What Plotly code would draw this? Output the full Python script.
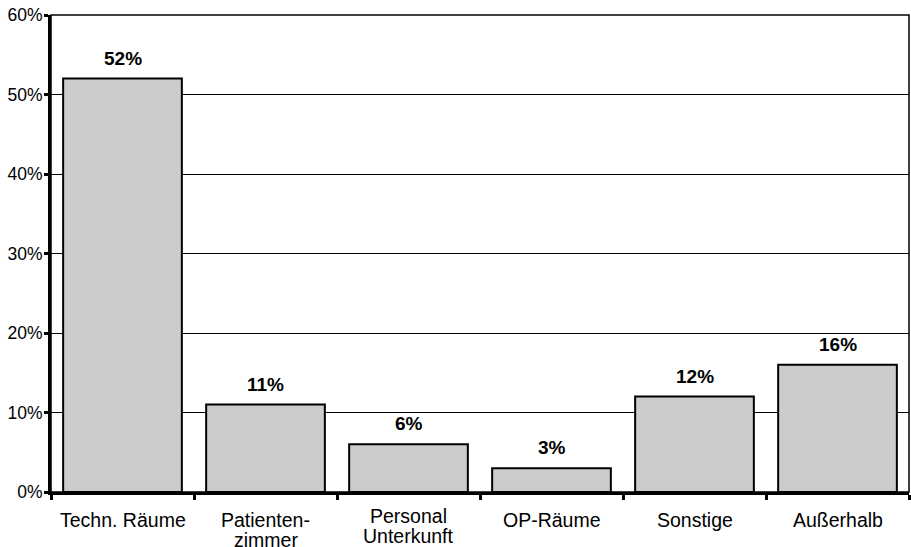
import plotly.graph_objects as go

categories = ["Techn. Räume", "Patienten-<br>zimmer", "Personal<br>Unterkunft",
              "OP-Räume", "Sonstige", "Außerhalb"]
shares = [52, 11, 6, 3, 12, 16]  # percent
y_ticks = [0, 10, 20, 30, 40, 50, 60]
y_tick_labels = [f"{v}%" for v in y_ticks]

FONT = "Liberation Sans, Arial, sans-serif"
LABEL_SIZE = 19.5
FIRST_LINE_DROP = 28   # px below the axis to the centre of the first label line
LINE_STEP = 20         # px between label lines
label_lift = {"Personal<br>Unterkunft": 4}

fig = go.Figure()
fig.add_trace(go.Bar(
    x=categories,
    y=shares,
    marker=dict(color="#cbcbcb", line=dict(color="black", width=2)),
    width=0.83,
    hoverinfo="skip",
))

# value labels above each bar
for cat, val in zip(categories, shares):
    fig.add_annotation(
        x=cat, y=val, text=f"<b>{val}%</b>", showarrow=False,
        yanchor="bottom", yshift=8,
        font=dict(family=FONT, size=19, color="black"),
    )

# category labels under the axis, one annotation per line for tight spacing
for cat in categories:
    for i, line in enumerate(cat.split("<br>")):
        fig.add_annotation(
            x=cat, xref="x", y=0, yref="paper", text=line, showarrow=False,
            yanchor="middle",
            yshift=-(FIRST_LINE_DROP + i * LINE_STEP) + label_lift.get(cat, 0),
            font=dict(family=FONT, size=LABEL_SIZE, color="black"),
        )

# thin frame on top and right
fig.add_shape(type="rect", xref="paper", yref="paper", x0=0, y0=0, x1=1, y1=1,
              line=dict(color="black", width=1.5), layer="above")

fig.update_layout(
    width=911, height=547,
    margin=dict(l=51, r=2, t=15, b=55),
    plot_bgcolor="white", paper_bgcolor="white",
    showlegend=False,
    font=dict(family=FONT, size=19, color="black"),
)
fig.update_xaxes(
    type="category",
    tickson="boundaries",
    ticks="outside", ticklen=5, tickwidth=3, tickcolor="black",
    showline=True, linecolor="black", linewidth=3,
    showgrid=False,
    showticklabels=False,
    automargin=False,
)
fig.update_yaxes(
    range=[0, 60],
    tickvals=y_ticks, ticktext=y_tick_labels,
    ticks="outside", ticklen=4, tickwidth=3, tickcolor="black",
    showline=True, linecolor="black", linewidth=3,
    showgrid=True, gridcolor="black", gridwidth=1,
    zeroline=False,
    automargin=False,
    tickfont=dict(family=FONT, size=17.5, color="black"),
    ticklabelstandoff=-2,
)

fig.write_html("out.html")
